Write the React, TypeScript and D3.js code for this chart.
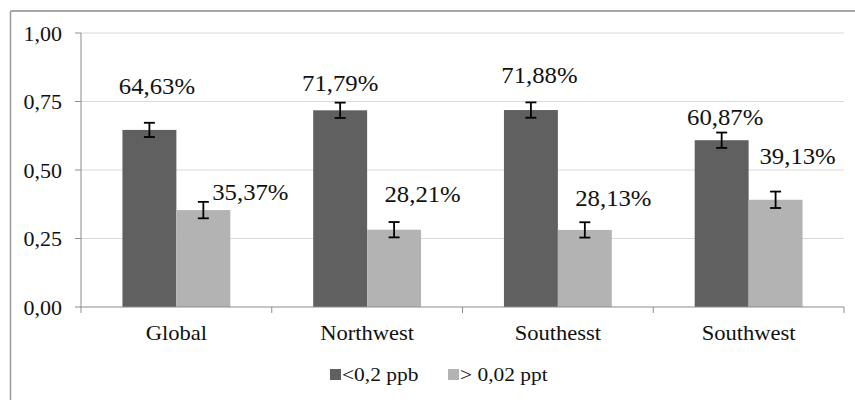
import React from "react";
import * as d3 from "d3";

const categories = ["Global", "Northwest", "Southesst", "Southwest"];
const seriesNames = ["<0,2 ppb", "> 0,02 ppt"];
const lowValues = [0.6463, 0.7179, 0.7188, 0.6087];
const highValues = [0.3537, 0.2821, 0.2813, 0.3913];
const lowErrors = [0.026, 0.028, 0.028, 0.028];
const highErrors = [0.03, 0.028, 0.028, 0.03];
const lowLabels = ["64,63%", "71,79%", "71,88%", "60,87%"];
const highLabels = ["35,37%", "28,21%", "28,13%", "39,13%"];
// label anchor heights in value units (manually placed data labels)
const lowLabelY = [0.777, 0.788, 0.818, 0.664];
const highLabelY = [0.39, 0.383, 0.369, 0.522];
const lowLabelShift = [7.5, 0, 8.5, 3.5];
const highLabelShift = [47, 28.5, 28.5, 22];
const yTicks = [0, 0.25, 0.5, 0.75, 1.0];
const yTickLabels = ["0,00", "0,25", "0,50", "0,75", "1,00"];

const colors = ["#606060", "#b3b3b3"];
const FONT = "Liberation Serif, Times New Roman, serif";
const SX = 1.1;

function T({ x, y, size, anchor = "middle", children }: any) {
  return (
    <text
      transform={`translate(${x},${y}) scale(${SX},1)`}
      textAnchor={anchor}
      style={{ fontFamily: FONT, fontSize: size }}
      fill="#111"
    >
      {children}
    </text>
  );
}

export default function App() {
  const W = 855;
  const H = 400;
  const left = 81;
  const right = 844;
  const top = 33;
  const bottom = 307;

  const y = d3.scaleLinear().domain([0, 1]).range([bottom, top]);
  const x = d3.scaleBand<string>().domain(categories).range([left, right]);
  const groupW = x.bandwidth() * (108 / 191);
  const inner = d3
    .scaleBand<number>()
    .domain([0, 1])
    .range([-groupW / 2, groupW / 2]);

  const series = [lowValues, highValues];
  const errs = [lowErrors, highErrors];

  const boundaries = [...categories.map((c) => x(c)!), right];

  return (
    <svg
      width={W}
      height={H}
      style={{ position: "absolute", left: 0, top: 0, background: "#fff" }}
    >
      <rect x={0} y={0} width={W} height={H} fill="#fff" />
      {/* outer frame (top & left visible) */}
      <line x1={10.5} y1={11} x2={W} y2={11} stroke="#8a8a8a" strokeWidth={1.5} />
      <line x1={10.5} y1={11} x2={10.5} y2={H} stroke="#9a9a9a" strokeWidth={1.5} />

      {/* gridlines */}
      {yTicks.slice(1).map((t) => (
        <line
          key={t}
          x1={left}
          x2={right}
          y1={y(t)}
          y2={y(t)}
          stroke="#dadada"
          strokeWidth={1}
        />
      ))}

      {/* y axis */}
      <line x1={left} x2={left} y1={top} y2={bottom} stroke="#8c8c8c" strokeWidth={1} />
      {yTicks.map((t, i) => (
        <g key={t}>
          <line x1={left - 6} x2={left} y1={y(t)} y2={y(t)} stroke="#8c8c8c" />
          <T x={62} y={y(t) + 7.5} size={20} anchor="end">
            {yTickLabels[i]}
          </T>
        </g>
      ))}

      {/* bars */}
      {categories.map((c, ci) => {
        const cx = x(c)! + x.bandwidth() / 2;
        return (
          <g key={c}>
            {series.map((vals, si) => {
              const bx = cx + inner(si)!;
              const bw = inner.bandwidth();
              const v = vals[ci];
              const e = errs[si][ci];
              const mx = bx + bw / 2;
              return (
                <g key={si}>
                  <rect
                    x={bx}
                    y={y(v)}
                    width={bw}
                    height={y(0) - y(v)}
                    fill={colors[si]}
                  />
                  <g stroke="#000" strokeWidth={1.8}>
                    <line x1={mx} x2={mx} y1={y(v + e)} y2={y(v - e)} />
                    <line x1={mx - 5.5} x2={mx + 5.5} y1={y(v + e)} y2={y(v + e)} />
                    <line x1={mx - 5.5} x2={mx + 5.5} y1={y(v - e)} y2={y(v - e)} />
                  </g>
                </g>
              );
            })}
          </g>
        );
      })}

      {/* x axis */}
      <line x1={left} x2={right} y1={bottom} y2={bottom} stroke="#8c8c8c" strokeWidth={1} />
      {boundaries.map((b, i) => (
        <line key={i} x1={b} x2={b} y1={bottom} y2={bottom + 6} stroke="#8c8c8c" />
      ))}
      {categories.map((c) => (
        <T key={c} x={x(c)! + x.bandwidth() / 2} y={340} size={20.5}>
          {c}
        </T>
      ))}

      {/* data labels */}
      {categories.map((c, ci) => {
        const cx = x(c)! + x.bandwidth() / 2;
        const lx0 = cx + inner(0)! + inner.bandwidth() / 2 + lowLabelShift[ci];
        const lx1 = cx + inner(1)! + inner.bandwidth() / 2 + highLabelShift[ci];
        return (
          <g key={c}>
            <T x={lx0} y={y(lowLabelY[ci])} size={22.5}>
              {lowLabels[ci]}
            </T>
            <T x={lx1} y={y(highLabelY[ci])} size={22.5}>
              {highLabels[ci]}
            </T>
          </g>
        );
      })}

      {/* legend */}
      {seriesNames.map((n, i) => {
        const sx = i === 0 ? 330 : 448;
        return (
          <g key={n}>
            <rect x={sx} y={369} width={11} height={11} fill={colors[i]} />
            <T x={sx + 12} y={381} size={19.5} anchor="start">
              {n}
            </T>
          </g>
        );
      })}
    </svg>
  );
}
